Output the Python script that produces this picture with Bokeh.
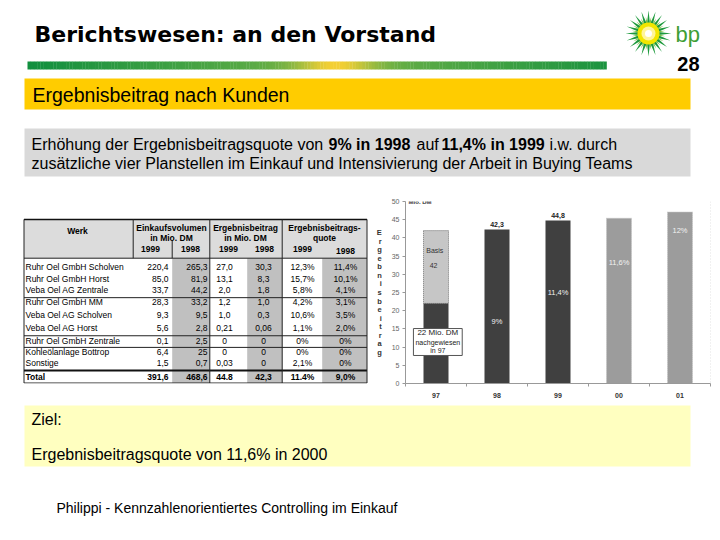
import math
from bokeh.plotting import figure
from bokeh.layouts import column, row
from bokeh.models import Range1d, FixedTicker, Span
from bokeh.core.properties import value
from bokeh.embed import file_html
from bokeh.resources import INLINE

FONT_NAME = "Liberation Sans"
FONT = value(FONT_NAME)

# ---------------- data ----------------
title = "Berichtswesen: an den Vorstand"
page_no = "28"
section = "Ergebnisbeitrag nach Kunden"
intro_line2 = "zusätzliche vier Planstellen im Einkauf und Intensivierung der Arbeit in Buying Teams"
goal_head = "Ziel:"
goal_text = "Ergebnisbeitragsquote von 11,6% in 2000"
footer_text = "Philippi  - Kennzahlenorientiertes Controlling im Einkauf"

werke = ["Ruhr Oel GmbH Scholven", "Ruhr Oel GmbH Horst", "Veba Oel AG Zentrale",
         "Ruhr Oel GmbH MM", "Veba Oel AG Scholven", "Veba Oel AG Horst",
         "Ruhr Oel GmbH Zentrale", "Kohleölanlage Bottrop", "Sonstige", "Total"]
ev_1999 = ["220,4", "85,0", "33,7", "28,3", "9,3", "5,6", "0,1", "6,4", "1,5", "391,6"]
ev_1998 = ["265,3", "81,9", "44,2", "33,2", "9,5", "2,8", "2,5", "25", "0,7", "468,6"]
eb_1999 = ["27,0", "13,1", "2,0", "1,2", "1,0", "0,21", "0", "0", "0,03", "44.8"]
eb_1998 = ["30,3", "8,3", "1,8", "1,0", "0,3", "0,06", "0", "0", "0", "42,3"]
q_1999 = ["12,3%", "15,7%", "5,8%", "4,2%", "10,6%", "1,1%", "0%", "0%", "2,1%", "11.4%"]
q_1998 = ["11,4%", "10,1%", "4,1%", "3,1%", "3,5%", "2,0%", "0%", "0%", "0%", "9,0%"]

years = ["97", "98", "99", "00", "01"]
ist_values = [22.0, 42.3, 44.8]          # 97 (nachgewiesen), 98, 99
basis_97 = 42.0
plan_values = [45.4, 47.1]               # 00, 01
quote_labels = ["", "9%", "11,4%", "11,6%", "12%"]
quote_label_y = [0, 17.0, 25.0, 33.2, 42.0]


def canvas(w, h, x0, x1, y0, y1, **kw):
    p = figure(width=w, height=h, x_range=Range1d(x0, x1), y_range=Range1d(y1, y0),
               x_axis_type=None, y_axis_type=None, toolbar_location=None,
               output_backend="svg", **kw)
    p.outline_line_color = None
    p.grid.visible = False
    p.background_fill_color = "white"
    p.border_fill_color = "white"
    return p


def txt(p, x, y, s, size, bold=False, align="left", color="#000000", baseline="middle", font=FONT):
    p.text(x=[x], y=[y], text=[s], text_font=font, text_font_size=size,
           text_font_style="bold" if bold else "normal", text_align=align,
           text_baseline=baseline, text_color=color)


def hexmix(c1, c2, t):
    a = [int(c1[i:i + 2], 16) for i in (1, 3, 5)]
    b = [int(c2[i:i + 2], 16) for i in (1, 3, 5)]
    return "#%02x%02x%02x" % tuple(int(round(a[k] + (b[k] - a[k]) * t)) for k in range(3))


# ---------------- header ----------------
hdr = canvas(712, 190, 0, 712, 0, 190, min_border=0)
txt(hdr, 34, 34, title, "22px", bold=True, font=value("DejaVu Sans"))

# gradient rule
n = 180
x_start, x_end = 27.0, 606.0
lefts, rights, cols = [], [], []
for i in range(n):
    xa = x_start + (x_end - x_start) * i / n
    xb = x_start + (x_end - x_start) * (i + 1) / n
    xm = (xa + xb) / 2
    base = hexmix("#12903f", "#74b447", max(0.0, 1 - abs(xm - 335) / 300))
    w = math.exp(-((xm - 335) / 38) ** 2)
    cols.append(hexmix(base, "#f4cf34", w))
    lefts.append(xa)
    rights.append(xb + 0.3)
hdr.quad(left=lefts, right=rights, top=61, bottom=69, fill_color=cols, line_color=None)

# bp logo
cx, cy = 648, 33
for (rt, rb, half, col, off) in [(23, 10, 8.5, "#1d9a3c", 0.0), (17, 8, 8.0, "#7cc242", 9.0)]:
    xs, ys = [], []
    for k in range(20):
        a = math.radians(k * 18 + off)
        h = math.radians(half)
        xs.append([cx + rb * math.cos(a - h), cx + rt * math.cos(a), cx + rb * math.cos(a + h)])
        ys.append([cy + rb * math.sin(a - h), cy + rt * math.sin(a), cy + rb * math.sin(a + h)])
    hdr.patches(xs, ys, fill_color=col, line_color=None)
hdr.scatter([cx], [cy], size=22, fill_color="#f2e600", line_color=None)
hdr.scatter([cx], [cy], size=14, fill_color="#fff59a", line_color=None)
hdr.scatter([cx], [cy], size=7, fill_color="#ffffff", line_color=None)
txt(hdr, 675, 34, "bp", "22px", color="#3e9e35")
txt(hdr, 699, 63, page_no, "20px", bold=True, align="right")

# section bar
hdr.quad(left=24, right=690, top=78, bottom=109, fill_color="#ffcc00", line_color=None)
txt(hdr, 32, 94, section, "19.5px")

# intro box
hdr.quad(left=24, right=690, top=128, bottom=176, fill_color="#d9d9d9", line_color=None)
txt(hdr, 31, 144, "Erhöhung der Ergebnisbeitragsquote von", "16px")
txt(hdr, 328, 144, "9% in 1998", "16px", bold=True)
txt(hdr, 416, 144, "auf", "16px")
txt(hdr, 441, 144, "11,4% in 1999", "16px", bold=True)
txt(hdr, 549, 144, "i.w. durch", "16px")
txt(hdr, 31, 163, intro_line2, "16px")

# ---------------- table ----------------
# frame aligned with chart frame: top border 11, bottom border 16 -> data 201..384
tab = canvas(372, 210, 0, 372, 201, 384, min_border_left=0, min_border_right=0,
             min_border_top=11, min_border_bottom=16)
T_L, T_R, T_T, T_B = 23.5, 366.5, 219, 383.5
H_B = 258
tab.quad(left=T_L, right=T_R, top=T_T, bottom=H_B, fill_color="#dcdcdc", line_color=None)
tab.quad(left=[171.7, 246.7, 321.7], right=[209.3, 281.7, T_R], top=H_B, bottom=T_B,
         fill_color="#c0c0c0", line_color=None)

hy = [H_B, 297.7, 336, 347.7, T_B]
tab.segment(x0=[T_L] * len(hy), y0=hy, x1=[T_R] * len(hy), y1=hy, line_color="#222222", line_width=1)
tab.segment(x0=[T_L], y0=[371], x1=[T_R], y1=[371], line_color="#111111", line_width=2)
tab.segment(x0=[T_L], y0=[T_T], x1=[T_R], y1=[T_T], line_color="#111111", line_width=1.5)
tab.segment(x0=[T_L, T_R, 209.3, 281.7], y0=[T_T] * 4, x1=[T_L, T_R, 209.3, 281.7], y1=[T_B] * 4,
            line_color="#222222", line_width=1)
tab.segment(x0=[132.7, 171.7], y0=[T_T, 240], x1=[132.7, 171.7], y1=[H_B, H_B],
            line_color="#222222", line_width=1)

HS = "8.5px"
txt(tab, 77, 231, "Werk", HS, bold=True, align="center")
for xc, l1, l2 in [(171, "Einkaufsvolumen", "in Mio. DM"), (245, "Ergebnisbeitrag", "in Mio. DM"),
                   (324, "Ergebnisbeitrags-", "quote")]:
    txt(tab, xc, 227.5, l1, HS, bold=True, align="center")
    txt(tab, xc, 238, l2, HS, bold=True, align="center")
for xc, yy, s in [(150, 249, "1999"), (190, 249, "1998"), (228, 249, "1999"), (264, 249, "1998"),
                  (302, 249, "1999"), (345, 251, "1998")]:
    txt(tab, xc, yy, s, HS, bold=True, align="center")

row_y = [266.5, 278.5, 289.5, 302, 315, 328, 341.5, 352.5, 363.5, 377.5]
for i, name in enumerate(werke):
    b = (name == "Total")
    y = row_y[i]
    txt(tab, 25, y, name, HS, bold=b)
    txt(tab, 168, y, ev_1999[i], HS, bold=b, align="right")
    txt(tab, 207, y, ev_1998[i], HS, bold=b, align="right")
    txt(tab, 224, y, eb_1999[i], HS, bold=b, align="center")
    txt(tab, 263, y, eb_1998[i], HS, bold=b, align="center")
    txt(tab, 302, y, q_1999[i], HS, bold=b, align="center")
    txt(tab, 345, y, q_1998[i], HS, bold=b, align="center")

# ---------------- bar chart ----------------
xpos = list(range(1, len(years) + 1))
ch = figure(width=340, height=210, x_range=Range1d(0.5, len(years) + 0.5), y_range=Range1d(0, 50),
            toolbar_location=None, output_backend="svg",
            min_border_left=33, min_border_right=2, min_border_top=11, min_border_bottom=16)
ch.outline_line_color = None
ch.grid.visible = False
ch.background_fill_color = "white"

ch.xaxis.ticker = FixedTicker(ticks=xpos, minor_ticks=[x - 0.5 for x in xpos] + [xpos[-1] + 0.5])
ch.xaxis.major_label_overrides = {x: y for x, y in zip(xpos, years)}
ch.xaxis.major_tick_line_color = None
ch.xaxis.minor_tick_in = 0
ch.xaxis.minor_tick_out = 3
ch.xaxis.minor_tick_line_color = "#999999"
ch.xaxis.axis_line_color = "#999999"
ch.xaxis.major_label_standoff = 3
ch.xaxis.major_label_text_font = FONT_NAME
ch.xaxis.major_label_text_font_size = "7px"
ch.xaxis.major_label_text_font_style = "bold"
ch.xaxis.major_label_text_color = "#333333"

ch.yaxis.ticker = FixedTicker(ticks=list(range(0, 51, 5)))
ch.yaxis.axis_line_color = "#999999"
ch.yaxis.major_tick_line_color = "#999999"
ch.yaxis.major_tick_in = 0
ch.yaxis.major_tick_out = 3
ch.yaxis.minor_tick_line_color = None
ch.yaxis.major_label_standoff = 3
ch.yaxis.major_label_text_font = FONT_NAME
ch.yaxis.major_label_text_font_size = "7px"
ch.yaxis.major_label_text_color = "#666666"
ch.yaxis.axis_label = "\n".join("Ergebnisbeitrag")
ch.yaxis.axis_label_orientation = "horizontal"
ch.yaxis.axis_label_text_font = FONT_NAME
ch.yaxis.axis_label_text_font_size = "7.5px"
ch.yaxis.axis_label_text_font_style = "bold"
ch.yaxis.axis_label_text_color = "#333333"
ch.yaxis.axis_label_text_line_height = 0.95
ch.yaxis.axis_label_standoff = 7

BW = 0.41
ch.vbar(x=[xpos[0]], bottom=[ist_values[0]], top=[basis_97], width=BW,
        fill_color="#c6c6c6", line_color="#777777", line_dash="1 1", line_width=1)
ch.vbar(x=xpos[:3], bottom=0, top=ist_values, width=BW, fill_color="#404040", line_color=None)
ch.vbar(x=xpos[3:], bottom=0, top=plan_values, width=BW,
        fill_color="#9c9c9c", line_color="#c4c4c4", line_dash="1 1", line_width=1)

ch.text(x=xpos[1:3], y=[v + 0.8 for v in ist_values[1:3]],
        text=[("%.1f" % v).replace(".", ",") for v in ist_values[1:3]],
        text_font=FONT, text_font_size="7px", text_font_style="bold", text_align="center",
        text_baseline="bottom", text_color="#222222")
ch.text(x=xpos[1:], y=quote_label_y[1:], text=quote_labels[1:], text_font=FONT,
        text_font_size="7.5px", text_align="center", text_baseline="middle", text_color="#f2f2f2")
ch.text(x=[xpos[0] - 0.02, xpos[0] - 0.04], y=[36.6, 32.3], text=["Basis", ("%g" % basis_97)],
        text_font=FONT, text_font_size="7px", text_align="center", text_baseline="middle",
        text_color="#333333")
ch.quad(left=0.63, right=1.43, bottom=7.7, top=15.1, fill_color="white",
        line_color="#555555", line_width=1)
ch.text(x=[1.03, 1.03, 1.03], y=[14.0, 11.4, 9.0],
        text=["%g Mio. DM" % ist_values[0], "nachgewiesen", "in " + years[0]],
        text_font=FONT, text_font_size=["8px", "7px", "7px"], text_align="center",
        text_baseline="middle", text_color="#222222")
ch.text(x=[0.55], y=[49.8], text=["Mio. DM"], text_font=FONT, text_font_size="6px",
        text_font_style="bold", text_align="left", text_baseline="middle", text_color="#333333")
ch.add_layout(Span(location=len(years) + 0.5, dimension="height", line_color="#c8c8c8",
                   line_dash="1 2", line_width=1))

# ---------------- footer ----------------
ftr = canvas(712, 132, 0, 712, 400, 532, min_border=0)
ftr.quad(left=24, right=690, top=405, bottom=466, fill_color="#ffffc0", line_color=None)
txt(ftr, 31, 419, goal_head, "16px")
txt(ftr, 31, 454, goal_text, "16px")
txt(ftr, 56, 507, footer_text, "14px")

layout = column(hdr, row(tab, ch, spacing=0), ftr, spacing=0)
open("out.html", "w").write(file_html(layout, INLINE))
